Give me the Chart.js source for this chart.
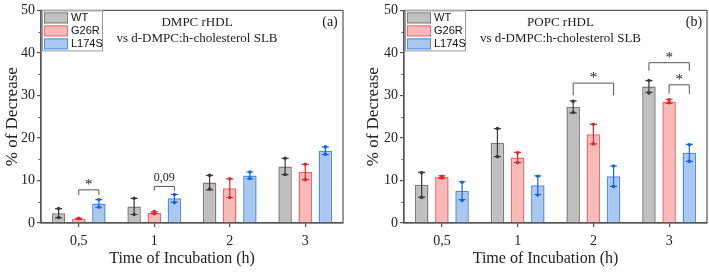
<!DOCTYPE html>
<html>
<head>
<meta charset="utf-8">
<script src="https://cdn.jsdelivr.net/npm/chart.js@4.4.0/dist/chart.umd.min.js"></script>
<style>
  body { margin: 0; background: #fff; }
  .panel { position: absolute; top: 0; }
</style>
</head>
<body>
<div class="panel" style="left:0"><canvas id="chartA" width="355" height="272"></canvas></div>
<div class="panel" style="left:355px"><canvas id="chartB" width="354" height="272"></canvas></div>
<script>
// categories and series
var categories = ['0,5', '1', '2', '3'];
var seriesNames = ['WT', 'G26R', 'L174S'];
var yTicks = [0, 10, 20, 30, 40, 50];

// (a) DMPC rHDL - mean % of decrease
var aWT    = [2.3, 3.9, 9.5, 13.3];
var aG26R  = [1.0, 2.4, 8.2, 12.0];
var aL174S = [4.6, 5.8, 11.2, 17.0];
// (a) error (+/-)
var aWTErr    = [1.1, 1.9, 1.7, 1.9];
var aG26RErr  = [0.1, 0.2, 2.2, 1.8];
var aL174SErr = [0.9, 0.9, 0.8, 0.9];
// (a) single measurements
var aWTPts    = [[3.4, 1.3], [5.8, 2.0], [11.2, 8.0], [15.2, 11.4]];
var aG26RPts  = [[1.0, 1.1], [2.7, 2.2], [10.4, 6.0], [13.8, 10.2]];
var aL174SPts = [[5.5, 3.7], [6.7, 4.8], [12.0, 10.5], [17.9, 16.2]];
// (a) significance: [category, series from, series to, bracket top, leg bottom, label]
var aSig = [[0, 1, 2, 7.8, 6.6, '*'], [1, 1, 2, 8.6, 7.6, '0,09']];

// (b) POPC rHDL
var bWT    = [9.0, 18.9, 27.3, 32.1];
var bG26R  = [10.8, 15.4, 20.9, 28.6];
var bL174S = [7.6, 8.9, 11.0, 16.5];
var bWTErr    = [2.9, 3.3, 1.4, 1.4];
var bG26RErr  = [0.3, 1.2, 2.3, 0.5];
var bL174SErr = [2.1, 2.2, 2.4, 2.0];
var bWTPts    = [[11.8, 6.0], [22.2, 15.6], [28.6, 26.0], [33.5, 30.6]];
var bG26RPts  = [[10.6, 11.0], [16.5, 14.2], [23.2, 18.6], [28.3, 29.0]];
var bL174SPts = [[9.6, 5.3], [11.0, 6.6], [13.4, 8.6], [18.4, 14.5]];
var bSig = [[2, 0, 2, 32.9, 30.0, '*'], [3, 0, 2, 37.7, 35.8, '*'], [3, 1, 2, 32.5, 30.4, '*']];

var fills   = ['#c0c0c0', '#f8b9b9', '#a9c8f0'];
var borders = ['#7d7d7d', '#ee6b6b', '#4f8ee8'];
var errCols = ['#3a3a3a', '#e3262b', '#1664df'];
var SERIF = '"Liberation Serif", "DejaVu Serif", serif';
var SANS = '"Liberation Sans", Arial, sans-serif';

var extras = {
    id: 'extras',
    afterDatasetsDraw: function(chart, args, o) {
        var ctx = chart.ctx, ca = chart.chartArea, ys = chart.scales.y;
        ctx.save();
        // error bars and points
        chart.data.datasets.forEach(function(ds, i) {
            var meta = chart.getDatasetMeta(i);
            meta.data.forEach(function(bar, j) {
                var v = ds.data[j], e = o.err[i][j], x = bar.x;
                var yt = ys.getPixelForValue(v + e), yb = ys.getPixelForValue(v - e);
                ctx.strokeStyle = errCols[i];
                ctx.lineWidth = 1.2;
                ctx.beginPath();
                ctx.moveTo(x, yt); ctx.lineTo(x, yb);
                ctx.moveTo(x - 3.5, yt); ctx.lineTo(x + 3.5, yt);
                ctx.moveTo(x - 3.5, yb); ctx.lineTo(x + 3.5, yb);
                ctx.stroke();
                ctx.fillStyle = errCols[i];
                o.pts[i][j].forEach(function(p) {
                    ctx.beginPath();
                    ctx.arc(x, ys.getPixelForValue(p), 1.8, 0, Math.PI * 2);
                    ctx.fill();
                });
            });
        });
        // significance brackets
        o.sig.forEach(function(s) {
            var x1 = chart.getDatasetMeta(s[1]).data[s[0]].x;
            var x2 = chart.getDatasetMeta(s[2]).data[s[0]].x;
            var yt = ys.getPixelForValue(s[3]), yl = ys.getPixelForValue(s[4]);
            ctx.strokeStyle = '#555';
            ctx.lineWidth = 1;
            ctx.beginPath();
            ctx.moveTo(x1, yl); ctx.lineTo(x1, yt); ctx.lineTo(x2, yt); ctx.lineTo(x2, yl);
            ctx.stroke();
            ctx.fillStyle = '#222';
            ctx.textAlign = 'center';
            ctx.textBaseline = 'middle';
            if (s[5] === '*') {
                ctx.font = '15px ' + SERIF;
                ctx.fillText(s[5], (x1 + x2) / 2, yt - 5);
            } else {
                ctx.font = '12px ' + SERIF;
                ctx.fillText(s[5], (x1 + x2) / 2, yt - 9);
            }
        });
        // frame
        ctx.strokeStyle = '#555';
        ctx.lineWidth = 1.2;
        ctx.strokeRect(ca.left, ca.top, ca.right - ca.left, ca.bottom - ca.top);
        // minor ticks
        ctx.beginPath();
        for (var m = 5; m < 50; m += 10) {
            var py = Math.round(ys.getPixelForValue(m)) + 0.5;
            ctx.moveTo(ca.left, py); ctx.lineTo(ca.left - 2.5, py);
        }
        ctx.stroke();
        // legend
        var lx = ca.left + 1, ly = ca.top;
        ctx.fillStyle = '#fff';
        ctx.fillRect(lx, ly, 61, 41);
        ctx.strokeStyle = '#9a9a9a';
        ctx.lineWidth = 1;
        ctx.strokeRect(lx + 0.5, ly + 0.5, 60, 40);
        chart.data.datasets.forEach(function(ds, i) {
            var ry = ly + 2 + i * 13;
            ctx.fillStyle = fills[i];
            ctx.fillRect(lx + 2, ry, 24, 11);
            ctx.strokeStyle = borders[i];
            ctx.lineWidth = 1;
            ctx.strokeRect(lx + 2.5, ry + 0.5, 23, 10);
            ctx.fillStyle = '#111';
            ctx.font = '11px ' + SANS;
            ctx.textAlign = 'left';
            ctx.textBaseline = 'middle';
            ctx.fillText(ds.label, lx + 29, ry + 6);
        });
        // in-plot title and panel tag
        ctx.fillStyle = '#222';
        ctx.font = '13px ' + SERIF;
        ctx.textAlign = 'center';
        ctx.textBaseline = 'middle';
        var cx = (ca.left + ca.right) / 2 + 5;
        ctx.fillText(o.title[0], cx, ca.top + 12);
        ctx.fillText(o.title[1], cx, ca.top + 28);
        ctx.font = '14px ' + SERIF;
        ctx.fillText(o.tag, ca.right - 13, ca.top + 12);
        // x axis title (sits a little left of the plot centre)
        ctx.font = '16px ' + SERIF;
        ctx.fillText('Time of Incubation (h)', (ca.left + ca.right) / 2 - 10, ca.bottom + 36);
        ctx.restore();
    }
};

function makeChart(id, values, err, pts, sig, title, tag, yWidth, padRight, yTitlePad) {
    var datasets = seriesNames.map(function(name, i) {
        return {
            label: name,
            data: values[i],
            backgroundColor: fills[i],
            borderColor: borders[i],
            borderWidth: 1.5,
            categoryPercentage: 0.8,
            barPercentage: 0.67
        };
    });
    return new Chart(document.getElementById(id), {
        type: 'bar',
        data: { labels: categories, datasets: datasets },
        options: {
            responsive: false,
            animation: false,
            devicePixelRatio: 1,
            layout: { padding: { top: 7, right: padRight, left: 0, bottom: 0 } },
            plugins: {
                legend: { display: false },
                tooltip: { enabled: false },
                extras: { err: err, pts: pts, sig: sig, title: title, tag: tag }
            },
            scales: {
                x: {
                    grid: { display: true, drawOnChartArea: false, offset: false, tickLength: 4, color: '#555', lineWidth: 1.2 },
                    border: { display: true, color: '#555', width: 1.2 },
                    ticks: { font: { family: SERIF, size: 14 }, color: '#222', padding: 6 },
                    afterFit: function(s) { s.height = 49; }
                },
                y: {
                    min: 0, max: 50,
                    afterBuildTicks: function(s) { s.ticks = yTicks.map(function(v) { return { value: v }; }); },
                    grid: { display: true, drawOnChartArea: false, tickLength: 4, color: '#555', lineWidth: 1.2 },
                    border: { display: true, color: '#555', width: 1.2 },
                    ticks: { font: { family: SERIF, size: 14 }, color: '#222', padding: 2 },
                    title: { display: true, text: '% of Decrease', font: { family: SERIF, size: 17 }, color: '#222', padding: { top: yTitlePad, bottom: 2 } },
                    afterFit: function(s) { s.width = yWidth; }
                }
            }
        },
        plugins: [extras]
    });
}

makeChart('chartA', [aWT, aG26R, aL174S], [aWTErr, aG26RErr, aL174SErr], [aWTPts, aG26RPts, aL174SPts], aSig,
    ['DMPC rHDL', 'vs d-DMPC:h-cholesterol SLB'], '(a)', 41, 12, 2);
makeChart('chartB', [bWT, bG26R, bL174S], [bWTErr, bG26RErr, bL174SErr], [bWTPts, bG26RPts, bL174SPts], bSig,
    ['POPC rHDL', 'vs d-DMPC:h-cholesterol SLB'], '(b)', 49, 2, 8);
</script>
</body>
</html>
